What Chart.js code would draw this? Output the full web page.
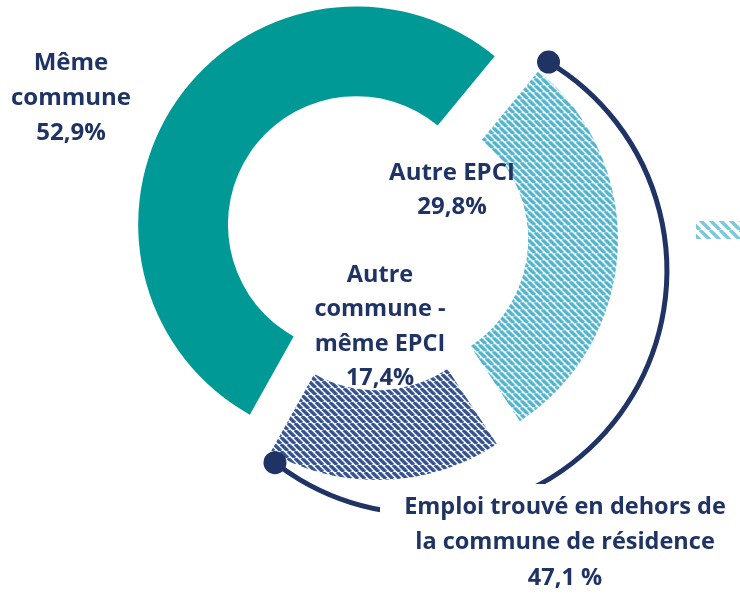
<!DOCTYPE html>
<html>
<head>
<meta charset="utf-8">
<script src="https://cdn.jsdelivr.net/npm/chart.js@4.4.0/dist/chart.umd.min.js"></script>
<style>
  html, body { margin: 0; padding: 0; background: #fff; }
</style>
</head>
<body>
<canvas id="donut" width="740" height="599"></canvas>
<script>
// data
const categories = ["Même commune", "Autre EPCI", "Autre commune - même EPCI"];
const shares = [52.9, 29.8, 17.4];
const shareLabels = ["52,9%", "29,8%", "17,4%"];
const labelLines = [["Même", "commune"], ["Autre EPCI"], ["Autre", "commune -", "même EPCI"]];
const groupLines = ["Emploi trouvé en dehors de", "la commune de résidence"];
const groupShare = "47,1 %";

const NAVY = "#1f3464";
const TEAL = "#009995";
const FONT = "'Open Sans', 'Noto Sans', sans-serif";
const EXPLODE = 24;

// diagonal hatch, like the excel fill
function stripes(color, size, width) {
  const c = document.createElement("canvas");
  c.width = size;
  c.height = size;
  const g = c.getContext("2d");
  g.fillStyle = "#fff";
  g.fillRect(0, 0, size, size);
  g.strokeStyle = color;
  g.lineWidth = width;
  g.beginPath();
  for (const k of [-size, 0, size]) {
    g.moveTo(k, 0);
    g.lineTo(k + size, size);
  }
  g.stroke();
  return g.createPattern(c, "repeat");
}

const lightHatch = stripes("#52b4cc", 7, 3.4);
const darkHatch = stripes("#34538f", 7, 3.4);

// pull every slice out along its bisector
const explode = {
  id: "explode",
  beforeDatasetDraw(chart, args) {
    const ctx = chart.ctx;
    args.meta.data.forEach(arc => {
      const mid = (arc.startAngle + arc.endAngle) / 2;
      ctx.save();
      ctx.translate(Math.cos(mid) * EXPLODE, Math.sin(mid) * EXPLODE);
      arc.draw(ctx);
      ctx.restore();
    });
    return false;
  }
};

function writeLines(ctx, lines, x, y, step, size) {
  ctx.font = "bold " + size + "px " + FONT;
  ctx.fillStyle = NAVY;
  ctx.textAlign = "center";
  ctx.textBaseline = "middle";
  lines.forEach((t, i) => ctx.fillText(t, x, y + i * step));
}

// bracket around the two "other" slices + labels
const annotate = {
  id: "annotate",
  afterDatasetsDraw(chart) {
    const ctx = chart.ctx;
    const arcs = chart.getDatasetMeta(0).data;
    const a = arcs[1], b = arcs[2];
    const mid = (a.startAngle + b.endAngle) / 2;
    const half = (b.endAngle - a.startAngle) / 2 + 0.15;
    const cx = a.x + Math.cos(mid) * 58;
    const cy = a.y + Math.sin(mid) * 58;
    const r = a.outerRadius + 25;

    ctx.save();
    ctx.strokeStyle = NAVY;
    ctx.lineWidth = 5;
    ctx.beginPath();
    ctx.arc(cx, cy, r, mid - half, mid + half);
    ctx.stroke();
    ctx.fillStyle = NAVY;
    [mid - half, mid + half].forEach(t => {
      ctx.beginPath();
      ctx.arc(cx + Math.cos(t) * r, cy + Math.sin(t) * r, 11.5, 0, Math.PI * 2);
      ctx.fill();
    });

    // white box under the group label
    ctx.fillStyle = "#fff";
    ctx.fillRect(380, 484, 360, 115);
    writeLines(ctx, groupLines.concat([groupShare]), 565, 507, 35.5, 23.5);

    writeLines(ctx, labelLines[0].concat([shareLabels[0]]), 71, 63, 35, 24);
    writeLines(ctx, labelLines[1].concat([shareLabels[1]]), 452, 173, 34, 24);
    writeLines(ctx, labelLines[2].concat([shareLabels[2]]), 380, 275, 34.5, 23.5);

    // clipped legend swatch at the right edge
    ctx.fillStyle = stripes("#7cc8da", 10, 3.5);
    ctx.fillRect(696, 221, 44, 18);
    ctx.restore();
  }
};

new Chart(document.getElementById("donut"), {
  type: "doughnut",
  data: {
    labels: categories,
    datasets: [{
      data: shares,
      backgroundColor: [TEAL, lightHatch, darkHatch],
      borderWidth: 0,
    }],
  },
  options: {
    responsive: false,
    animation: false,
    rotation: 209.2,
    radius: 218,
    cutout: 140,
    layout: { padding: { left: 12, right: 0, top: 0, bottom: 123 } },
    plugins: {
      legend: { display: false },
      tooltip: { enabled: false },
    },
  },
  plugins: [explode, annotate],
});
</script>
</body>
</html>
